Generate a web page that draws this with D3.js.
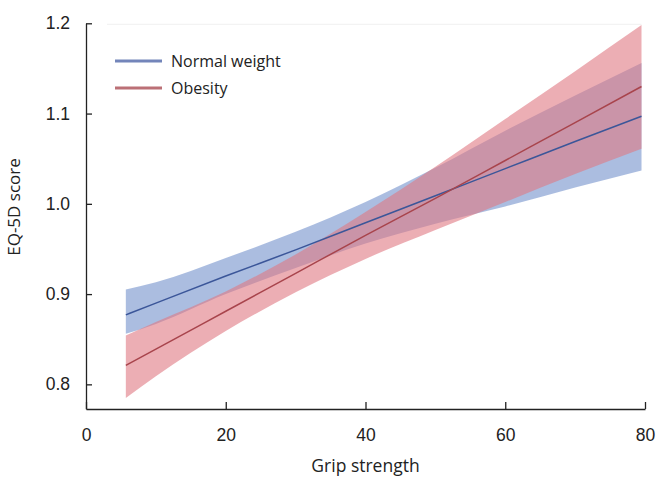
<!DOCTYPE html>
<html>
<head>
<meta charset="utf-8">
<script src="https://cdn.jsdelivr.net/npm/d3@7"></script>
<style>
  body { margin: 0; background: #fff; }
  svg { font-family: "Open Sans", "Noto Sans", sans-serif; }
</style>
</head>
<body>
<div id="main"></div>
<script>
// grip strength values where the fitted curves were read
const gripX = [5.7, 10, 20, 30, 40, 50, 60, 70, 79.5];

// Normal weight
const normalFit   = [0.877, 0.890, 0.920, 0.949, 0.979, 1.009, 1.039, 1.069, 1.097];
const normalUpper = [0.905, 0.913, 0.940, 0.969, 1.002, 1.040, 1.081, 1.120, 1.156];
const normalLower = [0.856, 0.867, 0.900, 0.929, 0.956, 0.978, 0.997, 1.018, 1.037];

// Obesity
const obeseFit   = [0.821, 0.839, 0.881, 0.923, 0.965, 1.006, 1.048, 1.090, 1.130];
const obeseUpper = [0.854, 0.869, 0.903, 0.944, 0.991, 1.041, 1.094, 1.147, 1.198];
const obeseLower = [0.785, 0.809, 0.859, 0.902, 0.939, 0.971, 1.002, 1.033, 1.061];

const xTicks = [0, 20, 40, 60, 80];
const yTicks = [0.8, 0.9, 1.0, 1.1, 1.2];
const seriesNames = ["Normal weight", "Obesity"];

const width = 656, height = 483;

const svg = d3.select('#main')
    .append('svg')
    .attr('width', width)
    .attr('height', height);

const x = d3.scaleLinear().domain([0, 80]).range([86, 645]);
const y = d3.scaleLinear().domain([0.7727, 1.2]).range([409, 23.3]);

// faint line at the top of the plot
svg.append('line')
    .attr('x1', x(3)).attr('x2', x(79.5))
    .attr('y1', y(1.2) + 1).attr('y2', y(1.2) + 1)
    .attr('stroke', '#f1f1f1')
    .attr('stroke-width', 1);

const series = [
    { name: seriesNames[0], fit: normalFit, lo: normalLower, hi: normalUpper,
      band: '#8ba3d4', bandOpacity: 0.72, line: '#3b5699', legend: '#7385ba' },
    { name: seriesNames[1], fit: obeseFit, lo: obeseLower, hi: obeseUpper,
      band: '#df7882', bandOpacity: 0.6, line: '#a8444c', legend: '#bb7076' }
];

const area = d3.area()
    .x(d => x(d.x))
    .y0(d => y(d.lo))
    .y1(d => y(d.hi))
    .curve(d3.curveMonotoneX);

const line = d3.line()
    .x(d => x(d.x))
    .y(d => y(d.v))
    .curve(d3.curveMonotoneX);

series.forEach(s => {
    const pts = gripX.map((gx, i) => ({ x: gx, lo: s.lo[i], hi: s.hi[i] }));
    svg.append('path')
        .attr('d', area(pts))
        .attr('fill', s.band)
        .attr('fill-opacity', s.bandOpacity);
});

series.forEach(s => {
    const pts = gripX.map((gx, i) => ({ x: gx, v: s.fit[i] }));
    svg.append('path')
        .attr('d', line(pts))
        .attr('fill', 'none')
        .attr('stroke', s.line)
        .attr('stroke-width', 1.5);
});

// axes
const yAxis = svg.append('g')
    .attr('transform', `translate(${x(0)},0)`)
    .call(d3.axisLeft(y).tickValues(yTicks).tickFormat(d3.format('.1f'))
        .tickSizeInner(-6).tickSizeOuter(0).tickPadding(16));

const xAxis = svg.append('g')
    .attr('transform', `translate(0,${y.range()[0]})`)
    .call(d3.axisBottom(x).tickValues(xTicks)
        .tickSizeInner(-7).tickSizeOuter(0).tickPadding(20));

[yAxis, xAxis].forEach(g => {
    g.select('.domain').attr('stroke', '#222').attr('stroke-width', 1.3);
    g.selectAll('.tick line').attr('stroke', '#222').attr('stroke-width', 1.3);
    g.selectAll('.tick text').attr('fill', '#222').attr('font-size', 17.5);
});

svg.append('text')
    .attr('x', 365.5)
    .attr('y', 472)
    .attr('text-anchor', 'middle')
    .attr('font-size', 17.5)
    .attr('fill', '#222')
    .text('Grip strength');

svg.append('text')
    .attr('transform', 'translate(20,207) rotate(-90)')
    .attr('text-anchor', 'middle')
    .attr('font-size', 17)
    .attr('fill', '#222')
    .text('EQ-5D score');

// legend
const legend = svg.append('g');
series.forEach((s, i) => {
    const ly = 61 + i * 27;
    legend.append('line')
        .attr('x1', 115).attr('x2', 162)
        .attr('y1', ly).attr('y2', ly)
        .attr('stroke', s.legend)
        .attr('stroke-width', 3);
    legend.append('text')
        .attr('x', 171).attr('y', ly + 6)
        .attr('font-size', 16)
        .attr('fill', '#222')
        .text(s.name);
});
</script>
</body>
</html>
